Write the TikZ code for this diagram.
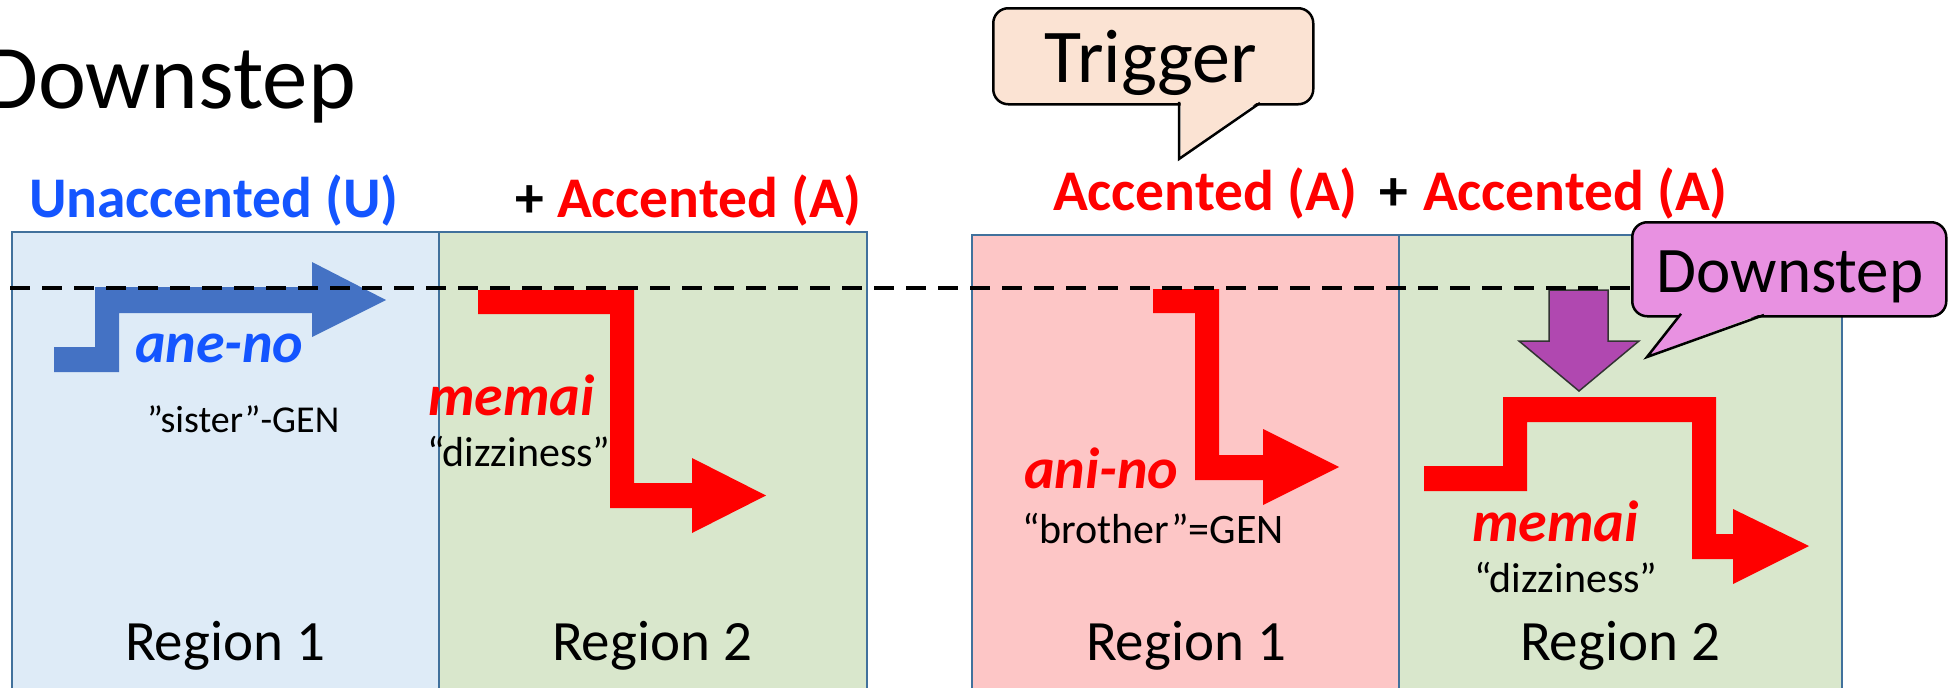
\documentclass[tikz,border=0pt]{standalone}
\usepackage{fontspec}
\setmainfont{Carlito}
\definecolor{boxblue}{HTML}{DEEBF7}
\definecolor{boxgreen}{HTML}{D9E7CC}
\definecolor{boxpink}{HTML}{FDC6C6}
\definecolor{boxline}{HTML}{41719C}
\definecolor{arrowblue}{HTML}{4472C4}
\definecolor{textblue}{RGB}{20,85,255}
\definecolor{red}{RGB}{255,0,0}
\definecolor{purplearrow}{HTML}{B048B0}
\definecolor{peach}{HTML}{FBE3D3}
\definecolor{magentacall}{HTML}{E891E1}
\tikzset{
  region/.style={draw=boxline, line width=2pt},
  txt/.style={inner sep=0pt, outer sep=0pt, anchor=base west},
  big/.style={font=\fontsize{57}{60}\selectfont},
  head/.style={font=\bfseries\fontsize{57.5}{60}\selectfont},
  word/.style={font=\bfseries\itshape\fontsize{58}{60}\selectfont},
  gloss/.style={font=\fontsize{42}{44}\selectfont},
  callbox/.style={draw=black, line width=2.5pt, rounded corners=15pt, inner sep=0pt, anchor=north west},
}
\begin{document}
\begin{tikzpicture}[x=1pt,y=-1pt]
\useasboundingbox (0,0) rectangle (1955,688);
\clip (0,0) rectangle (1955,688);
\fill[white] (0,0) rectangle (1955,688);

% region boxes
\path[region, fill=boxblue] (11.5,232) rectangle (439,700);
\path[region, fill=boxgreen] (439,232) rectangle (867,700);
\path[region, fill=boxpink] (972,235) rectangle (1399,700);
\path[region, fill=boxgreen] (1399,235) rectangle (1842,700);

% title
\node[inner sep=0pt, anchor=base east, font=\fontsize{91}{91}\selectfont] (title) at (356,108) {Downstep};

% headings
\node[txt, head, text=textblue] (unacc) at (29,217) {Unaccented (U)};
\node[txt, head] (plusL) at (515,217) {+};
\node[txt, head, text=red] (accL) at (557,217) {Accented (A)};
\node[txt, head, text=red] (accR1) at (1053,210) {Accented (A)};
\node[txt, head] (plusR) at (1379,210) {+};
\node[txt, head, text=red] (accR2) at (1423,210) {Accented (A)};

% pitch arrows
\fill[arrowblue] (54,347) -- (95,347) -- (95,287) -- (312,287) -- (312,262) -- (386,300)
  -- (312,337) -- (312,313) -- (119,313) -- (119,372) -- (54,372) -- cycle;
\fill[red] (478,290) -- (634,290) -- (634,483) -- (692,483) -- (692,458) -- (766,495.5)
  -- (692,533) -- (692,508) -- (610,508) -- (610,314) -- (478,314) -- cycle;
\fill[red] (1153,289) -- (1219,289) -- (1219,455) -- (1263,455) -- (1263,429) -- (1339,467)
  -- (1263,505) -- (1263,480) -- (1195,480) -- (1195,313) -- (1153,313) -- cycle;
\fill[red] (1424,466) -- (1503,466) -- (1503,397) -- (1716,397) -- (1716,534) -- (1733,534)
  -- (1733,509) -- (1809,546) -- (1733,584) -- (1733,559) -- (1692,559) -- (1692,422)
  -- (1527,422) -- (1527,491) -- (1424,491) -- cycle;

% purple down arrow
\filldraw[fill=purplearrow, draw=black!80, line width=1.5pt, line join=miter]
  (1549,290) -- (1608,290) -- (1608,341) -- (1639,341) -- (1579,391) -- (1519,341) -- (1549,341) -- cycle;

% dashed reference line
\coordinate (dl) at (10,288);
\coordinate (dr) at (1640,288);
\draw[line width=4pt, dash pattern=on 20pt off 12pt] (dl) -- (dr);

% words and glosses
\node[txt, word, text=textblue] (aneno) at (135,362) {ane-no};
\node[txt, gloss, font=\fontsize{38}{40}\selectfont] (sister) at (147,432) {”sister”-GEN};
\node[txt, word, text=red] (memaiL) at (428,415) {memai};
\node[txt, gloss] (dizzL) at (427,466) {“dizziness”};
\node[txt, word, text=red] (anino) at (1024,488) {ani-no};
\node[txt, gloss] (brother) at (1022,543) {“brother”=GEN};
\node[txt, word, text=red] (memaiR) at (1472,541) {memai};
\node[txt, gloss] (dizzR) at (1474,592) {“dizziness”};

% region labels
\node[txt, big] (r1L) at (125,660) {Region 1};
\node[txt, big] (r2L) at (552,660) {Region 2};
\node[txt, big] (r1R) at (1086,660) {Region 1};
\node[txt, big] (r2R) at (1520,660) {Region 2};

% Trigger callout
\node[callbox, fill=peach, minimum width=320pt, minimum height=96pt] (trigbox) at (992,7) {};
\fill[peach] (1180.5,99) -- (1262,99) -- (1180.5,157) -- cycle;
\draw[line width=2.5pt, line join=miter] (1179,101.8) -- (1179,159) -- (1260,103);
\node[inner sep=0pt, anchor=base, font=\fontsize{76}{80}\selectfont] (trigger) at (1151,82) {Trigger};

% Downstep callout
\node[callbox, fill=magentacall, minimum width=314pt, minimum height=94pt] (dsbox) at (1631,221) {};
\fill[magentacall] (1682.5,311) -- (1769,311) -- (1650,355) -- cycle;
\draw[line width=2.5pt, line join=miter] (1681,313.8) -- (1647,357) -- (1764,315);
\node[inner sep=0pt, anchor=base, font=\fontsize{65}{70}\selectfont] (dstext) at (1790,292) {Downstep};
\end{tikzpicture}
\end{document}
